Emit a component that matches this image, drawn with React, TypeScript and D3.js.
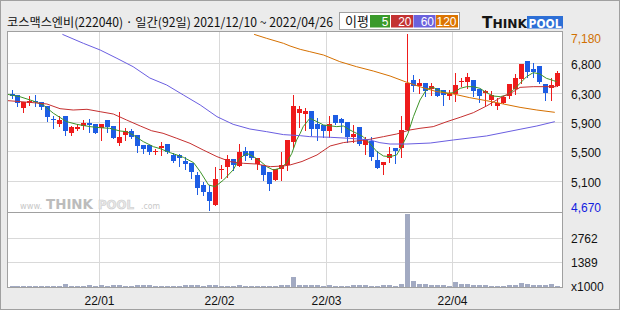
import React from 'react';
import * as d3 from 'd3';

const W = 620;
const H = 310;

// ---------- data ----------
const opens = [6320,6310,6130,6200,6225,6210,6150,5970,5900,6010,5765,5825,5870,5905,5890,5845,5955,5870,5620,5740,5800,5740,5595,5595,5495,5550,5610,5455,5455,5370,5335,5170,5025,4920,4740,5235,5280,5400,5300,5510,5515,5320,5310,5215,5100,5250,5310,5645,6060,6045,6080,5895,5880,5800,6025,5970,5925,5705,5850,5595,5660,5385,5305,5415,5555,5560,5810,6525,6440,6475,6390,6405,6380,6300,6320,6490,6500,6525,6395,6345,6240,6160,6190,6300,6395,6540,6795,6675,6725,6465,6415,6445];
const highs = [6380,6310,6215,6300,6310,6215,6150,6010,6010,6010,5870,5900,5955,5965,5895,5895,5955,5870,6070,5835,5820,5740,5595,5600,5545,5645,5610,5490,5470,5430,5335,5215,5075,5020,5290,5310,5455,5400,5610,5575,5515,5415,5310,5215,5250,5500,5670,6310,6155,6130,6080,5985,5880,6010,6025,5985,5925,5880,5850,5715,5705,5515,5360,5575,5555,6010,7180,6595,6535,6475,6475,6405,6380,6380,6620,6555,6630,6525,6395,6380,6360,6265,6290,6465,6610,6750,6795,6770,6725,6465,6550,6655];
const lows = [6270,6150,6070,6170,6150,6105,5945,5845,5870,5740,5745,5810,5820,5780,5765,5670,5785,5690,5595,5670,5690,5500,5490,5470,5470,5455,5480,5360,5300,5250,5120,4900,4885,4670,4740,5120,5145,5240,5300,5385,5395,5250,5100,4955,5100,5100,5240,5575,5860,5810,5740,5670,5705,5715,5890,5785,5645,5645,5600,5470,5385,5275,5180,5360,5335,5420,5810,6365,6345,6295,6310,6300,6170,6250,6225,6445,6405,6300,6205,6170,6170,6110,6190,6265,6320,6475,6570,6570,6475,6240,6240,6445];
const closes = [6300,6200,6210,6225,6210,6145,5990,5950,5955,5800,5860,5860,5905,5880,5775,5890,5860,5700,5715,5790,5705,5585,5535,5500,5515,5585,5500,5375,5415,5325,5205,4980,4920,4805,5115,5250,5400,5305,5500,5440,5405,5415,5170,5035,5250,5310,5670,6150,6110,6080,5820,5825,5800,5890,5915,5915,5715,5755,5605,5680,5430,5275,5360,5470,5515,5810,6480,6440,6475,6370,6440,6300,6310,6335,6455,6515,6570,6360,6300,6360,6310,6200,6285,6465,6550,6750,6645,6645,6500,6345,6455,6630];
const volumes = [50,50,50,50,50,50,50,50,50,170,50,50,50,95,50,95,50,110,110,50,50,110,110,110,50,50,50,50,50,110,110,110,50,110,110,50,50,50,110,50,50,50,50,50,50,110,110,556,110,110,110,110,50,110,50,50,50,110,110,110,50,50,110,110,50,170,4050,350,170,170,110,110,110,50,280,170,170,110,110,110,50,50,50,110,110,220,170,110,110,110,170,50];

// moving averages: [candle index, value]
const ma5Pts: [number, number][] = [[-0.7,6320],[1.4,6286],[3.6,6225],[5.3,6168],[7,6049],[9.2,5930],[10.9,5892],[13.1,5859],[14.8,5844],[16.4,5835],[18.1,5797],[19.2,5787],[20.3,5740],[22,5645],[23.7,5573],[24.8,5545],[26.5,5488],[28.7,5421],[30.4,5345],[31.5,5217],[32.9,5027],[34,5003],[35.4,5098],[37,5241],[38.1,5407],[39.3,5478],[40.4,5431],[41.5,5369],[42.6,5288],[43.7,5241],[44.8,5264],[45.9,5336],[46.8,5478],[47.6,5669],[48.2,5764],[48.7,5859],[49.8,5977],[51,5930],[52.1,5882],[54.3,5859],[55.4,5868],[56.5,5811],[57.6,5764],[58.7,5716],[59.8,5621],[61,5502],[62.1,5440],[63.2,5431],[64.3,5455],[65.4,5621],[66.2,5764],[67.1,6001],[68.2,6239],[69.3,6390],[70.4,6419],[71.5,6372],[72.7,6334],[73.8,6343],[74.9,6405],[76,6429],[77.1,6429],[78.2,6405],[79.3,6343],[80.4,6296],[81.6,6286],[82.7,6310],[83.8,6381],[84.9,6477],[86,6572],[87.1,6629],[88.2,6610],[89.3,6548],[90.5,6515],[91,6500]];
const ma20Pts: [number, number][] = [[-0.7,6230],[3.6,6201],[5.9,6182],[8.1,6115],[10.3,6096],[12.6,6106],[14.8,6072],[17,6039],[19.2,5954],[21.5,5868],[23.4,5800],[25.3,5764],[27.6,5692],[29.8,5621],[32,5526],[34.3,5431],[36.5,5360],[38.7,5336],[40.9,5326],[43.2,5288],[45.4,5298],[46.5,5312],[48.5,5362],[51,5455],[53.2,5583],[55.4,5631],[57.6,5654],[59.8,5678],[62.1,5716],[64.3,5754],[66.5,5811],[68.2,5835],[70.4,5859],[72.7,5930],[74.9,5992],[77.1,6058],[79.3,6153],[81.6,6270],[83.8,6358],[84.9,6419],[87.1,6429],[91,6429]];
const ma60Pts: [number, number][] = [[8.5,7175],[12,7047],[14.8,6952],[17.6,6833],[20.3,6714],[23.1,6552],[25.9,6453],[28.7,6310],[31.5,6168],[34.3,6001],[37,5892],[39.8,5825],[42.6,5787],[45.4,5745],[48.2,5730],[49.8,5716],[53.2,5707],[56.5,5692],[59.8,5669],[61.5,5630],[63.2,5611],[66,5611],[69.9,5625],[73.8,5669],[79.3,5726],[84.9,5821],[87.7,5868],[90.7,5930]];
const ma120Pts: [number, number][] = [[40.5,7175],[42.6,7118],[45.4,7047],[46.5,7009],[48.2,6961],[49.8,6928],[52.1,6880],[54.8,6786],[57.6,6714],[60.4,6652],[63.2,6581],[66,6491],[68.5,6419],[71,6358],[73.8,6324],[76.5,6272],[79.3,6229],[82.1,6182],[84.9,6134],[87.7,6096],[90.7,6063]];

const monthStartIdx = [15, 35, 53, 74];
const monthLabels = ['22/01', '22/02', '22/03', '22/04'];
const priceMax = 7180;
const priceMin = 4670;
const priceGridValues = [6762, 6343, 5925, 5507, 5088];
const priceGridLabels = ['6,800', '6,300', '5,900', '5,500', '5,100'];
const priceMaxLabel = '7,180';
const priceMinLabel = '4,670';
const volTop = 4160;
const volGridValues = [1389, 2762];
const volGridLabels = ['1389', '2762'];
const volUnitLabel = 'x1000';
const titleText = '코스맥스엔비(222040) · 일간(92일) 2021/12/10 ~ 2022/04/26';
const legendTitle = '이평';
const legendLabels = ['5', '20', '60', '120'];
const watermarkParts = ['www.', 'THINK', 'POOL', '.com'];

// ---------- styles ----------
const UP = '#ee1b1b';
const DOWN = '#1d5de4';
const MA_COLORS = ['#3e9428', '#c53030', '#6a5ee0', '#d57000'];
const LEGEND_COLORS = ['#3a9a2b', '#c33232', '#6b61dc', '#dc7400'];
const GRID = '#d9d9d9';
const BORDER = '#a0a0a0';
const VOL = '#a2aac2';
const NUM_FONT = "'Liberation Sans', Arial, sans-serif";

export default function App() {
  const left = 7.5, right = 562.5, top = 31.5, sep = 212.5, bottom = 287.5;
  const xS = d3.scaleLinear().domain([0, 91]).range([11.5, 556.6]);
  const yP = d3.scaleLinear().domain([priceMin, priceMax]).range([210, 34]);
  const yV = d3.scaleLinear().domain([0, volTop]).range([287, 212.5]);

  const line = d3.line<[number, number]>().x(d => xS(d[0])).y(d => yP(d[1]));
  const maSeries = [ma5Pts, ma20Pts, ma60Pts, ma120Pts];

  const legendBoxes = [
    { x: 370, w: 20 }, { x: 391, w: 22 }, { x: 413.5, w: 22 }, { x: 436, w: 22 },
  ];
  const wm = [
    { x: 20, w: 22, size: 9, weight: 'normal', fill: '#c8c8c8', stroke: 'none' },
    { x: 46, w: 47, size: 13.5, weight: 'bold', fill: '#bcbcbc', stroke: 'none' },
    { x: 98, w: 36, size: 12.5, weight: 'bold', fill: '#e8e8e8', stroke: '#cccccc' },
    { x: 141, w: 19, size: 9, weight: 'normal', fill: '#c8c8c8', stroke: 'none' },
  ];

  return (
    <svg width={W} height={H} style={{ position: 'fixed', left: 0, top: 0 }}>
      <defs>
        <clipPath id="pclip">
          <rect x={left} y={top} width={right - left} height={sep - top} />
        </clipPath>
      </defs>
      <rect x={0.5} y={0.5} width={W - 1} height={H - 1} fill="#ebebeb" stroke={BORDER} />
      {/* header */}
      <text x={7} y={27} fontFamily="'Noto Sans CJK KR', sans-serif" fontSize={12.5} fill="#111"
        textLength={326} lengthAdjust="spacingAndGlyphs">{titleText}</text>
      <rect x={339.5} y={12.5} width={120} height={17} fill="#fff" stroke={BORDER} />
      <text x={345} y={26} fontFamily="'Noto Sans CJK KR', sans-serif" fontSize={13} fill="#111">{legendTitle}</text>
      {legendLabels.map((l, k) => (
        <g key={l}>
          <rect x={legendBoxes[k].x} y={15} width={legendBoxes[k].w} height={12.5} fill={LEGEND_COLORS[k]} />
          <text x={legendBoxes[k].x + legendBoxes[k].w - 1.5} y={26} textAnchor="end" fontFamily={NUM_FONT}
            fontSize={12} fill="#fff">{l}</text>
        </g>
      ))}
      {/* logo */}
      <text x={482} y={28} fontFamily="'DejaVu Sans', sans-serif" fontWeight="bold" fill="#151515"
        textLength={45} lengthAdjust="spacingAndGlyphs">
        <tspan fontSize={15}>T</tspan><tspan fontSize={12}>HINK</tspan>
      </text>
      <rect x={527} y={16} width={36} height={12.5} fill="#2d6fd6" />
      <text x={545} y={27.5} textAnchor="middle" fontFamily="'DejaVu Sans', sans-serif" fontWeight="bold"
        fontSize={12} fill="#fff" textLength={33} lengthAdjust="spacingAndGlyphs">POOL</text>

      {/* panels */}
      <rect x={left} y={top} width={right - left} height={bottom - top} fill="#fff" />
      <g shapeRendering="crispEdges" stroke={GRID}>
        {priceGridValues.map(v => (
          <line key={v} x1={left} x2={right} y1={Math.round(yP(v)) + 0.5} y2={Math.round(yP(v)) + 0.5} />
        ))}
        {volGridValues.map(v => (
          <line key={v} x1={left} x2={right} y1={Math.round(yV(v)) + 0.5} y2={Math.round(yV(v)) + 0.5} />
        ))}
        {monthStartIdx.map(i => (
          <line key={i} x1={Math.round(xS(i) - 2.5) + 0.5} x2={Math.round(xS(i) - 2.5) + 0.5} y1={top} y2={bottom} />
        ))}
      </g>

      {/* watermark */}
      {watermarkParts.map((p, k) => (
        <text key={p} x={wm[k].x} y={209} fontFamily="'DejaVu Sans', sans-serif" fontSize={wm[k].size}
          fontWeight={wm[k].weight} fill={wm[k].fill} stroke={wm[k].stroke} strokeWidth={0.6}
          textLength={wm[k].w} lengthAdjust="spacingAndGlyphs">{p}</text>
      ))}

      {/* volume */}
      <g shapeRendering="crispEdges" fill={VOL}>
        {volumes.map((v, i) => {
          const cx = Math.round(xS(i));
          const y = Math.min(286, Math.round(yV(v)));
          return <rect key={i} x={cx - 2} y={y} width={5} height={287 - y} />;
        })}
      </g>

      {/* candles */}
      <g shapeRendering="crispEdges">
        {opens.map((o, i) => {
          const c = closes[i];
          const col = c >= o ? UP : DOWN;
          const cx = Math.round(xS(i));
          const yh = Math.round(yP(highs[i]));
          const yl = Math.round(yP(lows[i]));
          const yt = Math.round(yP(Math.max(o, c)));
          const yb = Math.round(yP(Math.min(o, c)));
          return (
            <g key={i} fill={col}>
              <rect x={cx} y={yh} width={1} height={Math.max(1, yl - yh + 1)} />
              <rect x={cx - 2} y={yt} width={5} height={Math.max(1, yb - yt)} />
            </g>
          );
        })}
      </g>

      {/* moving averages */}
      <g clipPath="url(#pclip)" fill="none">
        {maSeries.map((pts, k) => (
          <path key={k} d={line(pts) || ''} stroke={MA_COLORS[k]} strokeWidth={1} />
        ))}
      </g>

      {/* borders */}
      <g shapeRendering="crispEdges" stroke={BORDER} fill="none">
        <rect x={left} y={top} width={right - left} height={bottom - top} />
        <line x1={left} x2={right} y1={sep} y2={sep} />
      </g>

      {/* right axis labels */}
      <g fontFamily={NUM_FONT} fontSize={12}>
        <text x={571} y={yP(priceMax) + 8.5} fill="#d07000">{priceMaxLabel}</text>
        {priceGridValues.map((v, k) => (
          <text key={v} x={571} y={Math.round(yP(v)) + 5.5} fill="#111">{priceGridLabels[k]}</text>
        ))}
        <text x={571} y={yP(priceMin) + 1.5} fill="#1020e0">{priceMinLabel}</text>
        {volGridValues.map((v, k) => (
          <text key={v} x={571} y={Math.round(yV(v)) + 5} fill="#111">{volGridLabels[k]}</text>
        ))}
        <text x={571} y={290.5} fill="#111">{volUnitLabel}</text>
        {monthStartIdx.map((i, k) => (
          <text key={i} x={Math.round(xS(i) - 2.5) + 0.5} y={305} textAnchor="middle" fill="#111">{monthLabels[k]}</text>
        ))}
      </g>
    </svg>
  );
}
